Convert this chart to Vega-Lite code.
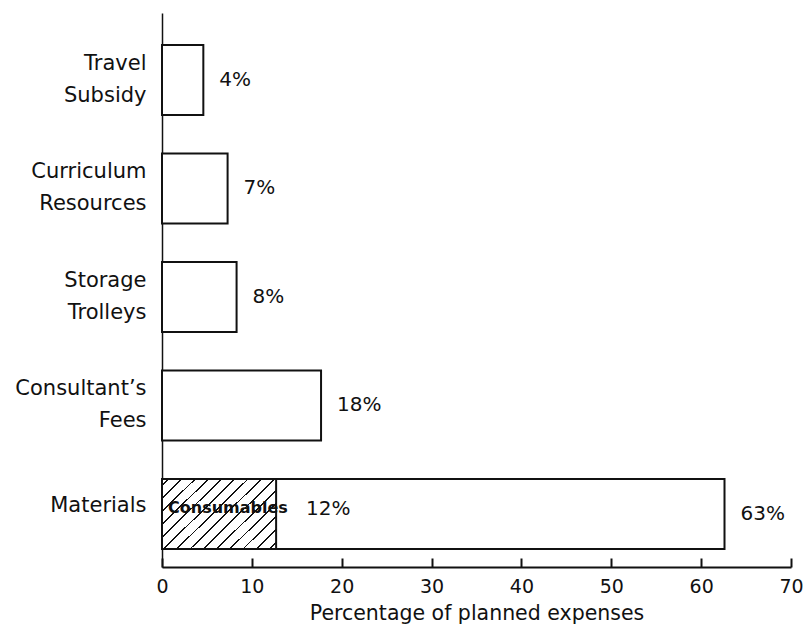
{
  "$schema": "https://vega.github.io/schema/vega-lite/v6.json",
  "width": 629,
  "height": 554,
  "autosize": {"type": "none"},
  "padding": {"left": 162, "top": 13, "right": 17, "bottom": 59},
  "background": "white",
  "config": {
    "view": {"stroke": null},
    "font": "DejaVu Sans",
    "axis": {"grid": false, "labelColor": "#111", "titleColor": "#111", "domainColor": "#111", "tickColor": "#111"}
  },
  "datasets": {
    "bars": [
      {"item": "Travel|Subsidy", "value": 4.6, "label": "4%"},
      {"item": "Curriculum|Resources", "value": 7.3, "label": "7%"},
      {"item": "Storage|Trolleys", "value": 8.3, "label": "8%"},
      {"item": "Consultant’s|Fees", "value": 17.7, "label": "18%"},
      {"item": "Materials", "value": 62.6, "label": "63%"}
    ],
    "parts": [
      {"item": "Materials", "value": 12.7, "label": "12%", "name": "Consumables"}
    ]
  },
  "encoding": {
    "y": {
      "field": "item",
      "type": "nominal",
      "sort": null,
      "scale": {"domain": ["Travel|Subsidy", "Curriculum|Resources", "Storage|Trolleys", "Consultant’s|Fees", "Materials"], "paddingInner": 0.354, "paddingOuter": 0.23, "align": 0.64},
      "axis": {
        "title": null,
        "ticks": false,
        "domainWidth": 1.5,
        "labelFontSize": 21,
        "labelPadding": 16,
        "labelLineHeight": 32,
        "labelOffset": {"condition": {"test": "datum.value === 'Materials'", "value": -8}, "value": -16},
        "labelExpr": "split(datum.value, '|')"
      }
    }
  },
  "layer": [
    {
      "data": {"name": "bars"},
      "mark": {"type": "bar", "fill": "white", "stroke": "#111", "strokeWidth": 2},
      "encoding": {
        "x": {
          "field": "value",
          "type": "quantitative",
          "scale": {"domain": [0, 70], "nice": false},
          "axis": {
            "values": [0, 10, 20, 30, 40, 50, 60, 70],
            "title": "Percentage of planned expenses",
            "titleFontSize": 20.5,
            "titleFontWeight": "normal",
            "titlePadding": 7,
            "labelFontSize": 19,
            "labelPadding": 19,
            "labelFlush": false,
            "tickSize": -9,
            "tickWidth": 2,
            "domainWidth": 2
          }
        }
      }
    },
    {
      "data": {"name": "bars"},
      "mark": {"type": "text", "align": "left", "baseline": "middle", "dx": 16, "fontSize": 20, "color": "#111"},
      "encoding": {
        "x": {"field": "value", "type": "quantitative"},
        "text": {"field": "label"}
      }
    },
    {
      "data": {"name": "parts"},
      "mark": {
        "type": "bar",
        "stroke": "#111",
        "strokeWidth": 2,
        "fill": {
          "gradient": "linear",
          "x1": 0, "y1": 0, "x2": 1.168, "y2": 0.731,
          "stops": [
            {"offset": 0, "color": "white"},
            {"offset": 0.031, "color": "white"}, {"offset": 0.031, "color": "#111"}, {"offset": 0.041, "color": "#111"}, {"offset": 0.041, "color": "white"},
            {"offset": 0.102, "color": "white"}, {"offset": 0.102, "color": "#111"}, {"offset": 0.112, "color": "#111"}, {"offset": 0.112, "color": "white"},
            {"offset": 0.174, "color": "white"}, {"offset": 0.174, "color": "#111"}, {"offset": 0.184, "color": "#111"}, {"offset": 0.184, "color": "white"},
            {"offset": 0.245, "color": "white"}, {"offset": 0.245, "color": "#111"}, {"offset": 0.255, "color": "#111"}, {"offset": 0.255, "color": "white"},
            {"offset": 0.316, "color": "white"}, {"offset": 0.316, "color": "#111"}, {"offset": 0.326, "color": "#111"}, {"offset": 0.326, "color": "white"},
            {"offset": 0.388, "color": "white"}, {"offset": 0.388, "color": "#111"}, {"offset": 0.398, "color": "#111"}, {"offset": 0.398, "color": "white"},
            {"offset": 0.459, "color": "white"}, {"offset": 0.459, "color": "#111"}, {"offset": 0.469, "color": "#111"}, {"offset": 0.469, "color": "white"},
            {"offset": 0.531, "color": "white"}, {"offset": 0.531, "color": "#111"}, {"offset": 0.541, "color": "#111"}, {"offset": 0.541, "color": "white"},
            {"offset": 0.602, "color": "white"}, {"offset": 0.602, "color": "#111"}, {"offset": 0.612, "color": "#111"}, {"offset": 0.612, "color": "white"},
            {"offset": 0.674, "color": "white"}, {"offset": 0.674, "color": "#111"}, {"offset": 0.684, "color": "#111"}, {"offset": 0.684, "color": "white"},
            {"offset": 0.745, "color": "white"}, {"offset": 0.745, "color": "#111"}, {"offset": 0.755, "color": "#111"}, {"offset": 0.755, "color": "white"},
            {"offset": 0.816, "color": "white"}, {"offset": 0.816, "color": "#111"}, {"offset": 0.826, "color": "#111"}, {"offset": 0.826, "color": "white"},
            {"offset": 0.888, "color": "white"}, {"offset": 0.888, "color": "#111"}, {"offset": 0.898, "color": "#111"}, {"offset": 0.898, "color": "white"},
            {"offset": 0.959, "color": "white"}, {"offset": 0.959, "color": "#111"}, {"offset": 0.969, "color": "#111"}, {"offset": 0.969, "color": "white"},
            {"offset": 1, "color": "white"}
          ]
        }
      },
      "encoding": {
        "x": {"field": "value", "type": "quantitative"}
      }
    },
    {
      "data": {"name": "parts"},
      "mark": {"type": "text", "align": "left", "baseline": "middle", "dx": 30, "dy": -5, "fontSize": 20, "color": "#111"},
      "encoding": {
        "x": {"field": "value", "type": "quantitative"},
        "text": {"field": "label"}
      }
    },
    {
      "data": {"name": "parts"},
      "mark": {"type": "text", "align": "left", "baseline": "middle", "dx": 6, "dy": -6, "fontSize": 16, "fontWeight": "bold", "color": "#111"},
      "encoding": {
        "x": {"datum": 0, "type": "quantitative"},
        "text": {"field": "name"}
      }
    }
  ]
}
